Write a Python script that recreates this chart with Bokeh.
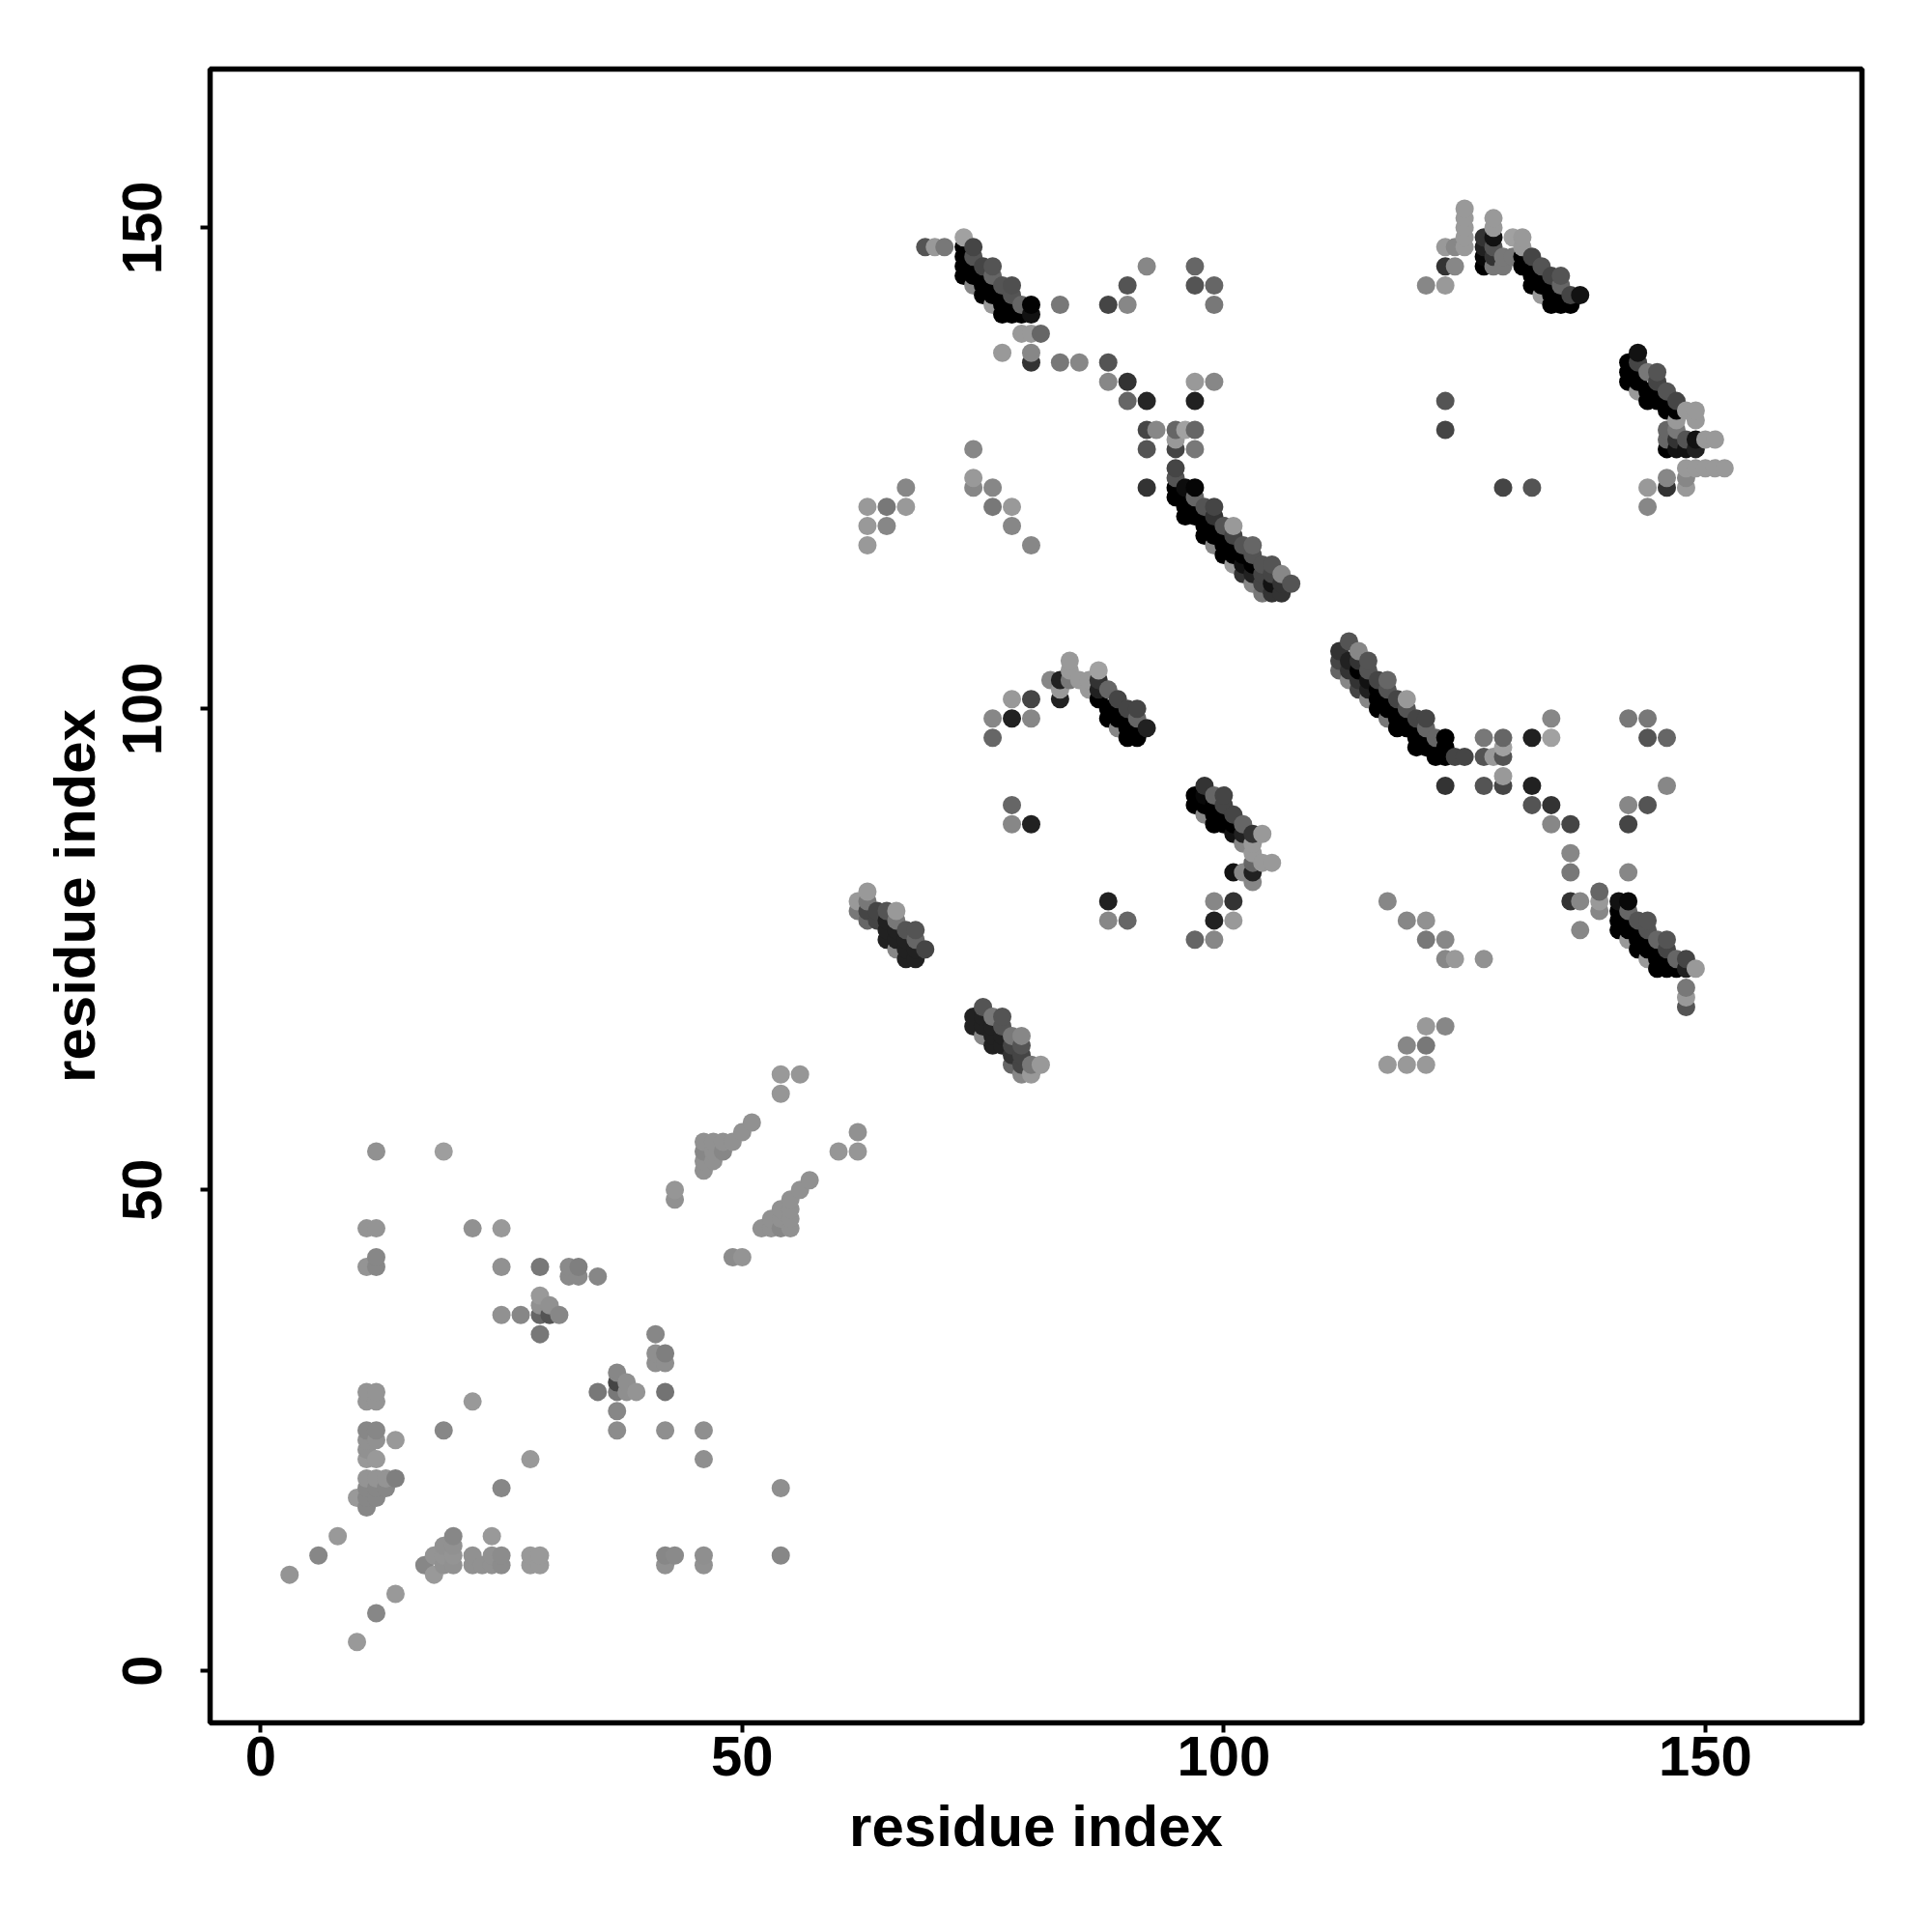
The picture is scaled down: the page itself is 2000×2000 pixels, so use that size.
from bokeh.plotting import figure
from bokeh.models import ColumnDataSource, FixedTicker, Range1d
from bokeh.embed import file_html
from bokeh.resources import INLINE

# (residue i, residue j, contact score 0-100)
band_a = [(69,148,67),(70,148,40),(71,148,53),(73,149,37),(73,148,100),(73,147,100),(73,146,100),(73,145,100),
 (74,148,73),(74,147,67),(74,146,100),(74,145,100),(74,144,47),(75,146,73),(75,145,100),(75,144,100),(75,143,100),
 (76,146,67),(76,145,60),(76,144,100),(76,143,100),(76,142,40),(77,144,67),(77,143,100),(77,142,100),(77,141,100),
 (78,144,69),(78,143,67),(78,142,100),(78,141,100),(79,142,60),(79,141,100),(80,142,99),(80,141,93)]
upper_mid = [(83,142,53),(88,142,73),(90,142,47),(90,144,67),(92,146,47),(97,146,60),(97,144,67),(99,144,60),(99,142,53),
 (79,139,40),(80,139,40),(81,139,60),(77,137,40),(80,137,47),(80,136,80),(83,136,53),(85,136,47),(88,136,67),
 (88,134,47),(90,134,80),(97,134,40),(99,134,47),(90,132,60),(92,132,85),(97,132,87),
 (92,129,73),(93,129,47),(95,129,60),(96,129,37),(97,129,60),(95,128,40),(92,127,67),(95,127,73),(97,127,53),
 (95,125,73),(95,124,67),(92,123,80)]
band_b = [(95,123,100),(96,123,95),(97,123,98),(95,122,100),(96,122,100),(96,121,100),(96,120,100),(97,122,60),(98,121,67),(99,121,73),
 (97,121,100),(97,120,100),(98,120,100),(98,119,100),(98,118,100),(99,120,80),(99,119,100),(99,118,100),(99,117,47),
 (100,119,67),(101,119,40),(101,118,73),(100,118,100),(100,117,100),(100,116,100),(101,117,100),(101,116,100),(101,115,40),
 (102,117,67),(103,117,60),(103,116,67),(102,116,100),(102,115,93),(102,114,80),(104,115,67),(105,115,67),(103,115,100),(103,114,87),
 (103,113,47),(104,114,73),(104,113,73),(105,114,73),(105,113,93),(106,114,47),(107,113,67),(104,112,53),(105,112,80),(106,112,80),(106,113,80)]
left_mid = [(67,123,47),(63,121,40),(65,121,53),(67,121,40),(63,119,40),(65,119,47),(63,117,40),
 (74,127,47),(74,124,40),(74,123,47),(76,123,47),(76,121,53),(78,121,40),(78,119,47),(80,117,47)]
top_right = [(125,152,40),(125,151,40),(125,150,40),(125,149,40),(125,148,40),(123,148,40),(124,148,47),(123,146,80),(124,146,47),
 (121,144,47),(123,144,40),(128,151,40),(128,150,40),(128,149,93),(127,149,80),(127,148,87),(127,147,97),(127,146,100),
 (128,148,67),(128,147,80),(128,146,53),(129,146,53),(129,147,53),(130,147,53),(130,149,37),(131,149,40),(131,148,40),
 (131,147,100),(131,146,100),(132,147,73),(133,146,67),(132,146,100),(132,145,100),(132,144,100),(133,145,100),(133,144,100),
 (133,143,40),(134,145,73),(135,145,67),(135,144,60),(134,144,100),(134,143,100),(134,142,100),(135,143,100),(135,142,100),
 (136,142,100),(136,143,73),(137,143,93)]
right_top = [(143,137,93),(142,136,100),(142,135,100),(142,134,100),(143,136,73),(143,135,100),(143,134,100),(143,133,40),
 (144,135,53),(145,135,67),(145,134,73),(144,133,100),(144,132,100),(145,133,100),(145,132,100),(146,133,67),(147,132,73),
 (146,132,100),(146,131,100),(147,131,100),(148,131,40),(149,131,40),(149,130,40),(146,129,60),(147,129,53),(146,128,60),
 (147,130,40),(147,128,80),(148,128,67),(149,128,93),(150,128,40),(151,128,40),(146,127,100),(147,127,93),(148,127,93),(149,127,87),
 (148,125,40),(149,125,40),(150,125,40),(151,125,40),(152,125,40),(148,124,47),(148,123,40),(146,124,47),(146,123,80),
 (144,123,40),(144,121,47),(123,132,67),(123,129,73),(129,123,73),(132,123,67)]
center_arc = [(76,97,60),(76,99,47),(78,99,87),(80,99,47),(78,101,40),(80,101,73),(82,103,47),(83,103,87),(83,101,87),(83,102,40),
 (84,105,40),(84,104,40),(84,103,53),(85,103,40),(86,103,40),(86,102,40),(87,104,37),(87,103,80),(87,102,87),(87,101,100),
 (88,102,60),(89,101,73),(90,100,73),(91,100,73),(91,99,60),(88,100,100),(88,99,100),(89,100,100),(89,99,100),(89,98,47),
 (90,99,100),(90,98,100),(90,97,100),(91,97,100),(91,98,100),(92,98,87)]
center_band = [(98,92,80),(97,91,100),(97,90,100),(98,91,97),(98,90,100),(98,89,47),(99,91,60),(100,91,73),(100,90,73),(101,89,73),
 (102,88,60),(103,87,80),(104,87,40),(99,90,100),(99,89,100),(99,88,100),(100,89,100),(100,88,100),(101,87,93),(101,88,100),
 (102,87,87),(102,86,47),(103,86,40),(103,85,40),(103,84,60),(104,84,40),(105,84,40),(101,83,93),(102,83,47),(103,83,87),(103,82,47)]
center_iso = [(78,90,60),(78,88,47),(80,88,87),(88,80,87),(88,78,47),(90,78,60),(99,80,47),(101,80,80),(99,78,87),(101,78,40),
 (97,76,60),(99,76,47)]
band_c = [(113,107,67),(114,106,47),(115,105,67),(112,106,80),(112,105,73),(112,104,60),(113,105,87),(113,104,80),(113,103,47),
 (114,105,80),(114,104,100),(115,104,67),(116,103,73),(117,103,60),(117,102,67),(114,103,80),(114,102,73),(115,103,93),(115,102,87),
 (115,101,47),(116,102,100),(116,101,100),(116,100,100),(117,101,100),(117,100,100),(117,99,53),(118,101,73),(119,101,40),(119,100,67),
 (118,100,100),(118,99,100),(118,98,100),(119,99,100),(119,98,100),(120,99,73),(121,99,73),(121,98,60),(122,97,60),(123,97,100),(123,96,100),
 (120,98,100),(120,97,100),(120,96,100),(121,97,100),(121,96,100),(122,96,100),(122,95,100),(123,95,100),(124,95,73),(125,95,73)]
right_mid = [(127,97,53),(129,97,60),(127,95,67),(128,95,40),(129,96,37),(129,95,67),(123,92,80),(127,92,67),(129,92,73),(129,93,40),
 (132,97,87),(134,97,37),(134,99,47),(142,99,53),(144,99,53),(144,97,67),(146,97,60),(132,92,87),(146,92,47),(132,90,67),(134,90,80),
 (142,90,47),(144,90,67),(134,88,47),(136,88,73),(142,88,73),(136,85,47),(136,83,53),(142,83,47),(136,80,80),(137,80,47),
 (139,81,60),(139,80,40),(139,79,47),(137,77,47)]
band_d = [(141,80,93),(142,80,97),(141,79,100),(141,78,100),(141,77,100),(142,79,60),(142,78,100),(142,77,100),(142,76,40),
 (143,78,67),(144,78,67),(144,77,67),(143,77,100),(143,76,100),(143,75,100),(144,76,100),(144,75,100),(144,74,40),
 (145,76,60),(146,76,67),(146,75,73),(145,75,100),(145,74,100),(145,73,100),(146,74,100),(146,73,100),(147,74,60),(148,74,73),
 (147,73,100),(148,73,87),(149,73,40),(148,71,53),(148,70,40),(148,69,67)]
lower_right = [(117,80,47),(119,78,47),(121,78,43),(121,76,53),(123,76,47),(123,74,47),(124,74,40),(127,74,43),
 (121,67,40),(123,67,47),(119,65,47),(121,65,53),(117,63,40),(119,63,40),(121,63,40)]
cluster_e = [(63,81,40),(62,80,40),(62,79,53),(63,80,53),(63,79,73),(63,78,60),(64,79,73),(65,79,67),(66,79,40),(66,78,53),(64,78,73),
 (65,78,87),(65,77,87),(65,76,87),(66,77,87),(66,76,87),(66,75,47),(67,77,67),(68,77,67),(68,76,60),(67,76,87),(67,75,87),(67,74,87),
 (68,75,87),(68,74,87),(69,75,73)]
cluster_f = [(75,69,67),(74,68,87),(74,67,87),(75,68,87),(75,67,87),(75,66,47),(76,68,53),(77,68,67),(77,67,67),(76,67,87),(76,66,87),
 (76,65,87),(77,66,87),(77,65,87),(78,66,53),(79,66,47),(79,65,67),(78,65,73),(78,64,80),(78,63,60),(79,64,73),(79,63,73),
 (79,62,47),(80,62,40),(80,63,53),(81,63,40)]
low_left = [(12,54,43),(19,54,38),(11,46,42),(12,46,42),(22,46,43),(25,46,40),(12,43,47),(11,42,42),(12,42,47),(25,42,43),(29,42,53),
 (32,42,46),(33,42,50),(32,41,46),(33,41,46),(35,41,47),(29,39,40),(29,38,43),(30,38,43),(31,37,47),(30,37,67),(29,37,60),(25,37,43),
 (27,37,47),(29,35,53),(11,29,42),(12,29,42),(11,28,42),(12,28,42),(22,28,40),(35,29,53),(19,25,47),(11,25,47),(12,25,47),(11,24,43),
 (12,24,43),(14,24,40),(11,23,43),(11,22,40),(12,22,40),(28,22,40),(11,20,42),(12,20,42),(13,20,42),(14,20,50),(25,19,47),(13,19,47),
 (12,19,47),(11,19,47),(10,18,40),(11,18,47),(12,18,47),(11,17,47),(8,14,40),(20,14,47),(24,14,40),(19,13,43),(20,13,43),(6,12,47),
 (18,12,42),(19,12,42),(20,12,42),(22,12,43),(24,12,43),(25,12,45),(28,12,40),(29,12,40),(17,11,47),(19,11,43),(20,11,43),(22,11,43),
 (23,11,43),(24,11,43),(25,11,45),(28,11,40),(29,11,40),(18,10,40),(3,10,42),(14,8,40),(12,6,47),(10,3,40)]
low_mid = [(54,62,40),(56,62,41),(54,60,41),(51,57,43),(50,56,43),(49,55,43),(48,55,43),(47,55,43),(46,55,43),(48,54,47),(47,54,43),(46,54,47),
 (47,53,43),(46,53,43),(46,52,43),(43,50,41),(43,49,43),(57,51,43),(56,50,43),(55,49,43),(54,48,43),(55,48,43),(53,47,43),(54,47,43),(55,47,43),
 (52,46,43),(53,46,43),(54,46,47),(55,46,43),(49,43,45),(50,43,42),(60,54,41),(62,56,43),(62,54,41),(41,35,47),(41,33,44),(42,33,50),
 (41,32,44),(42,32,44),(37,31,47),(38,30,44),(37,30,73),(37,29,53),(38,29,44),(39,29,42),(42,29,55),(37,27,47),(37,25,45),(42,25,44),
 (46,25,44),(46,22,44),(54,19,44),(54,12,47),(42,12,47),(43,12,46),(42,11,43),(46,12,44),(46,11,43)]

x_ticks = [0, 50, 100, 150]
y_ticks = [0, 50, 100, 150]
x_title = "residue index"
y_title = "residue index"

contacts = sorted(set(band_a + upper_mid + band_b + left_mid + top_right + right_top + center_arc + center_band
                      + center_iso + band_c + right_mid + band_d + lower_right + cluster_e + cluster_f + low_left + low_mid),
                  key=lambda t: (t[0], t[1]))


def shade(score):
    g = int(round(2.55 * (100 - score)))
    return f"#{g:02x}{g:02x}{g:02x}"


source = ColumnDataSource(dict(
    i=[c[0] for c in contacts],
    j=[c[1] for c in contacts],
    color=[shade(c[2]) for c in contacts],
))

p = figure(width=1992, height=1992, frame_width=1710, frame_height=1712,
           x_range=Range1d(-5.25, 166.26), y_range=Range1d(-5.4, 166.5),
           output_backend="svg", toolbar_location=None,
           min_border_left=217, min_border_right=65, min_border_top=71, min_border_bottom=209,
           background_fill_color="white", border_fill_color="white")
p.scatter("i", "j", source=source, size=19, marker="circle", fill_color="color", line_color=None)

p.grid.visible = False
p.outline_line_color = "black"
p.outline_line_width = 5.5
p.outline_line_alpha = 1

for ax, ticks, title in ((p.xaxis[0], x_ticks, x_title), (p.yaxis[0], y_ticks, y_title)):
    ax.ticker = FixedTicker(ticks=ticks)
    ax.minor_tick_line_color = None
    ax.axis_line_color = None
    ax.major_tick_line_color = "black"
    ax.major_tick_line_width = 4
    ax.major_tick_out = 10
    ax.major_tick_in = 0
    ax.major_label_text_font = "Liberation Sans"
    ax.major_label_text_font_style = "bold"
    ax.major_label_text_font_size = "58px"
    ax.major_label_text_color = "black"
    ax.axis_label = title
    ax.axis_label_text_font = "Liberation Sans"
    ax.axis_label_text_font_style = "bold"
    ax.axis_label_text_font_size = "60px"
    ax.axis_label_text_color = "black"

p.xaxis[0].major_label_standoff = 4
p.xaxis[0].axis_label_standoff = 16
p.yaxis[0].major_label_orientation = "parallel"
p.yaxis[0].major_label_standoff = 40
p.yaxis[0].axis_label_standoff = 14

open("out.html", "w").write(file_html(p, INLINE))
